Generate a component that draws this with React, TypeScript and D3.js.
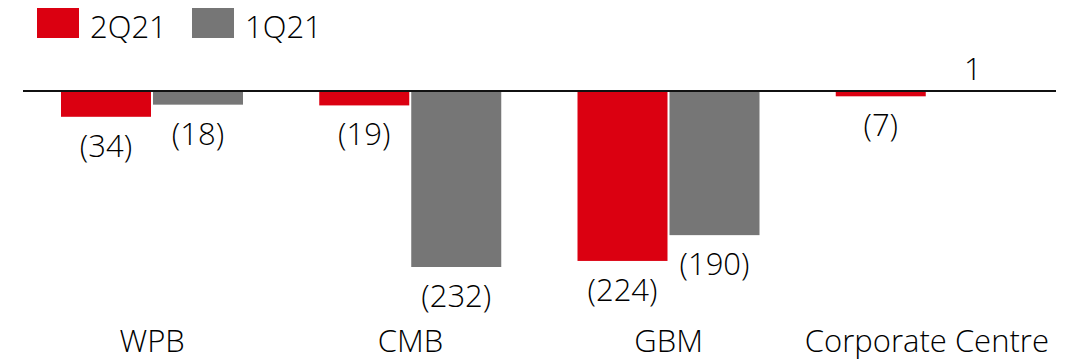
import React from "react";
import * as d3 from "d3";

const categories = ["WPB", "CMB", "GBM", "Corporate Centre"];
const seriesNames = ["2Q21", "1Q21"];
const values2Q21 = [-34, -19, -224, -7];
const values1Q21 = [-18, -232, -190, 1];
const colors = ["#DB0011", "#767676"];

const W = 1074;
const H = 362;
const FONT = "'Open Sans', sans-serif";
const FS = 31;

export default function App() {
  const x0 = d3.scaleBand<string>().domain(categories).range([23, 1056]).padding(0);
  const x1 = d3
    .scaleBand<string>()
    .domain(seriesNames)
    .range([38, 220])
    .paddingInner(2 / 92)
    .paddingOuter(0);
  const zeroY = 91;
  const y = d3.scaleLinear().domain([0, -232]).range([zeroY, zeroY + 176]);
  const series = [values2Q21, values1Q21];
  const fmt = (v: number) => (v < 0 ? `(${Math.abs(v)})` : `${v}`);

  return (
    <svg width={W} height={H} style={{ position: "absolute", left: 0, top: 0 }}>
      {/* legend */}
      {seriesNames.map((s, i) => (
        <g key={s} transform={`translate(${37 + i * 155},8)`}>
          <rect x={0} y={0} width={42} height={30} fill={colors[i]} />
          <text x={53} y={30} fontFamily={FONT} fontWeight={300} fontSize={FS} fill="#000">
            {s}
          </text>
        </g>
      ))}
      {/* bars */}
      {categories.map((c, ci) => (
        <g key={c} transform={`translate(${x0(c)},0)`}>
          {seriesNames.map((s, si) => {
            const v = series[si][ci];
            const top = Math.min(y(v), y(0));
            const h = Math.abs(y(v) - y(0));
            const bx = x1(s)!;
            const bw = x1.bandwidth();
            return (
              <g key={s}>
                <rect x={bx} y={top} width={bw} height={h} fill={colors[si]} />
                <text
                  x={bx + bw / 2}
                  y={v < 0 ? y(v) + 40 : y(v) - 10}
                  textAnchor="middle"
                  fontFamily={FONT}
                  fontWeight={300}
                  fontSize={FS}
                  fill="#000"
                >
                  {fmt(v)}
                </text>
              </g>
            );
          })}
          <text
            x={x0.bandwidth() / 2}
            y={352}
            textAnchor="middle"
            fontFamily={FONT}
            fontWeight={300}
            fontSize={FS}
            fill="#000"
          >
            {c}
          </text>
        </g>
      ))}
      <line x1={23} x2={1056} y1={zeroY} y2={zeroY} stroke="#111" strokeWidth={2} />
    </svg>
  );
}
